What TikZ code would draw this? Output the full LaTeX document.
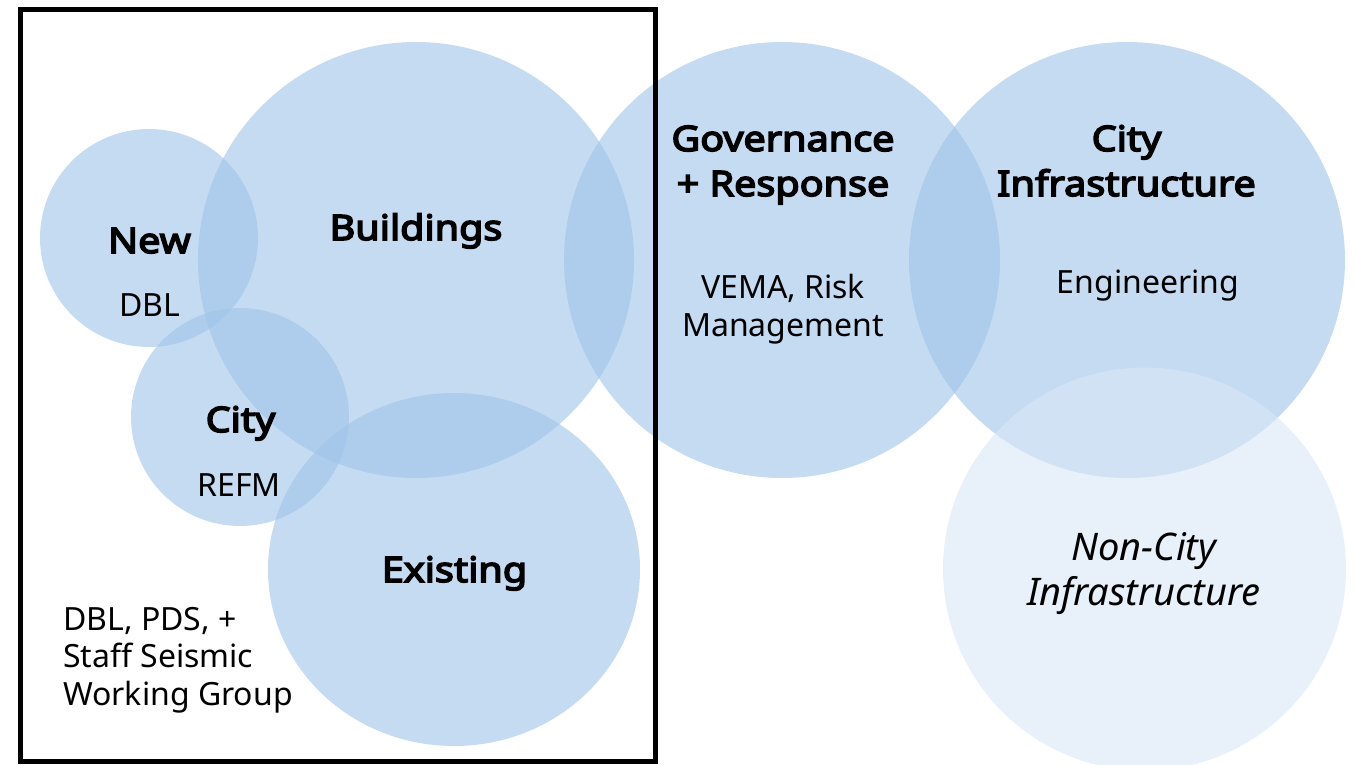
\documentclass[tikz,border=0pt]{standalone}
\usepackage{fontspec}
\setmainfont{Noto Sans}[BoldFont={Noto Sans}, BoldFeatures={FakeBold=4.5, FakeStretch=1.13}]
\usetikzlibrary{shapes.geometric}
\definecolor{bubble blue}{RGB}{159,195,232}
\definecolor{pale blue}{RGB}{217,230,247}
\tikzstyle{bubble}=[ellipse, inner sep=0pt, fill=bubble blue, fill opacity=0.6]
\tikzstyle{pale bubble}=[bubble, fill=pale blue]
\tikzstyle{heading}=[anchor=base, align=center, inner sep=0pt, font=\fontsize{35}{45}\selectfont\bfseries]
\tikzstyle{member}=[anchor=base, align=center, inner sep=0pt, font=\fontsize{32}{37.5}\selectfont]
\tikzstyle{outside}=[heading, font=\fontsize{38}{45}\selectfont\itshape]

\begin{document}
\begin{tikzpicture}[x=1pt, y=-1pt]
      \useasboundingbox (0, 0) rectangle (1355, 764);
      % circles
      \node[bubble, minimum size=218] (new) at (149, 238) {};
      \node[bubble, minimum size=436] (buildings) at (416, 260) {};
      \node[bubble, minimum size=218] (city) at (240, 417) {};
      \node[bubble, minimum width=372, minimum height=353] (existing) at (454, 569.5) {};
      \node[bubble, minimum size=436] (governance) at (782, 260) {};
      \node[bubble, minimum size=436] (infrastructure) at (1127, 260) {};
      \node[pale bubble, minimum size=403] (noncity) at (1144.5, 569) {};
      % labels (base = last line)
      \node[heading] (new text) at (149.5, 253) {New};
      \node[member] (new who) at (150, 316) {DBL};
      \node[heading] (buildings text) at (416, 240) {Buildings};
      \node[heading] (city text) at (240.5, 432) {City};
      \node[member] (city who) at (239, 496) {REFM};
      \node[heading] (existing text) at (454.5, 582) {Existing};
      \node[member, anchor=base west, align=left] (buildings who) at (63, 705) {DBL, PDS, +\\Staff Seismic\\Working Group};
      \node[heading] (governance text) at (783, 196) {Governance\\+ Response};
      \node[member] (governance who) at (783, 336) {VEMA, Risk\\Management};
      \node[heading] (infrastructure text) at (1126.5, 196) {City\\Infrastructure};
      \node[member] (infrastructure who) at (1148, 293) {Engineering};
      \node[outside] (noncity text) at (1144, 605) {Non-City\\Infrastructure};
      % frame round the building group
      \draw[line width=5pt] (20, 9) rectangle (655, 761);
    \end{tikzpicture}
\end{document}
